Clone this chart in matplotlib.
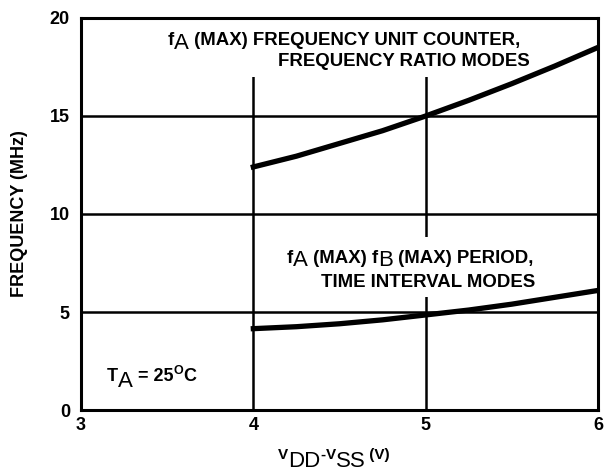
"""Maximum input frequency versus supply voltage for the counter modes."""

import matplotlib

matplotlib.use("Agg")
import matplotlib.pyplot as plt
from matplotlib.patches import Rectangle

plt.rcParams["font.family"] = ["Liberation Sans", "DejaVu Sans"]

# supply voltage (V) and max frequency (MHz)
vdd = [4.0, 4.25, 4.5, 4.75, 5.0, 5.25, 5.5, 5.75, 6.0]
f_unit_counter = [12.4, 12.95, 13.6, 14.25, 15.0, 15.8, 16.65, 17.55, 18.5]
f_period = [4.15, 4.25, 4.4, 4.6, 4.85, 5.1, 5.4, 5.75, 6.1]

x_ticks = [3, 4, 5, 6]
y_ticks = [0, 5, 10, 15, 20]
grid_x = [4, 5]
grid_y = [5, 10, 15]

MAIN = 13    # bold tick / axis size
CAP = 13.4   # bold caption size
SUB = 16     # the big regular subscript letters
SMALL = 11


def rich(ax, x, y, pieces, coords="data"):
    """Lay text runs of mixed size/offset one after another along a baseline."""
    prev = None
    for text, size, weight, dy in pieces:
        xy, xyc = ((x, y), coords) if prev is None else ((1, y), (prev, coords))
        prev = ax.annotate(text, xy=xy, xycoords=xyc, xytext=(0, dy),
                           textcoords="offset points", fontsize=size,
                           fontweight=weight, ha="left", va="baseline",
                           annotation_clip=False, zorder=4)
    return prev


fig = plt.figure(figsize=(6.05, 4.71), dpi=100)
ax = fig.add_axes([0.1339, 0.1295, 0.8545, 0.8323])

for x in grid_x:
    ax.axvline(x, color="black", lw=1.8, zorder=1)
for y in grid_y:
    ax.axhline(y, color="black", lw=1.8, zorder=1)

# white panels behind the captions break the grid like the original
ax.add_patch(Rectangle((0.17, 0.85), 0.71, 0.15, transform=ax.transAxes,
                       facecolor="white", edgecolor="none", zorder=1.5))
ax.add_patch(Rectangle((0.385, 0.288), 0.503, 0.153, transform=ax.transAxes,
                       facecolor="white", edgecolor="none", zorder=1.5))

ax.plot(vdd, f_unit_counter, color="black", lw=3.8, zorder=3)
ax.plot(vdd, f_period, color="black", lw=3.8, zorder=3)

ax.set_xlim(3, 6)
ax.set_ylim(0, 20)
ax.set_xticks(x_ticks)
ax.set_yticks(y_ticks)
ax.tick_params(length=0, labelsize=MAIN)
ax.tick_params(axis="y", pad=8)
ax.tick_params(axis="x", pad=5)
for lab in ax.get_xticklabels() + ax.get_yticklabels():
    lab.set_fontweight("bold")
for s in ax.spines.values():
    s.set_linewidth(2.2)

# captions
rich(ax, 3.505, 18.62, [("f", CAP, "bold", 0), ("A", SUB, "normal", -2.5),
                        (" (MAX) FREQUENCY UNIT COUNTER,", CAP, "bold", 0)])
ax.text(5.606, 17.55, "FREQUENCY RATIO MODES", ha="right", va="baseline",
        fontsize=CAP, fontweight="bold", zorder=4)

rich(ax, 4.196, 7.5, [("f", CAP, "bold", 0), ("A", SUB, "normal", -2.5),
                      (" (MAX) f", CAP, "bold", 0), ("B", SUB, "normal", -2.5),
                      (" (MAX) PERIOD,", CAP, "bold", 0)])
ax.text(5.635, 6.28, "TIME INTERVAL MODES", ha="right", va="baseline",
        fontsize=CAP, fontweight="bold", zorder=4)

rich(ax, 3.151, 1.48, [("T", MAIN, "bold", 0), ("A", SUB, "normal", -4),
                       (" = 25", MAIN, "bold", 0), ("O", 9, "bold", 5),
                       ("C", MAIN, "bold", 0)])

# axis titles
ax.set_ylabel("FREQUENCY (MHz)", fontsize=MAIN, fontweight="bold")
ax.yaxis.set_label_coords(-0.103, 0.5)
rich(ax, 0.4595, 0.0085, [("V", SMALL, "bold", 6), ("DD", SUB, "normal", 0),
                          ("-", SMALL, "bold", 6), ("V", SMALL, "bold", 6),
                          ("SS", SUB, "normal", 0), (" (V)", SMALL, "bold", 6)],
     coords="figure fraction")

fig.savefig("out.png", dpi=100)
